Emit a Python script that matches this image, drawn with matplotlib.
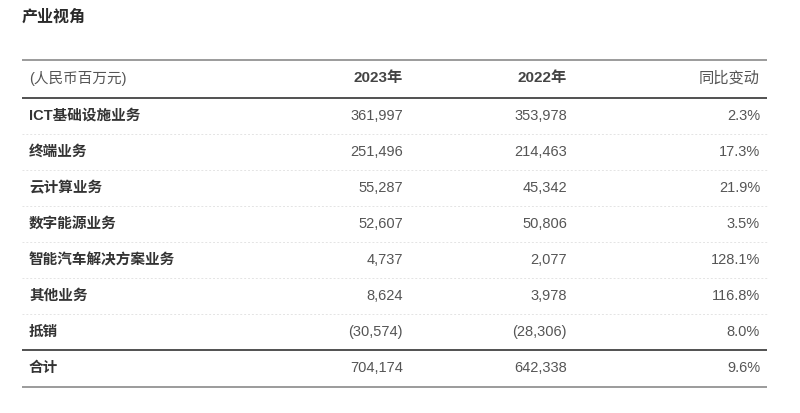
import matplotlib
matplotlib.use("Agg")
import matplotlib.pyplot as plt

plt.rcParams['font.family'] = ['Liberation Sans', 'Noto Sans CJK SC', 'DejaVu Sans']

title = "产业视角"
unit_label = "(人民币百万元)"
col_headers = ["2023年", "2022年", "同比变动"]
categories = ["ICT基础设施业务", "终端业务", "云计算业务", "数字能源业务",
              "智能汽车解决方案业务", "其他业务", "抵销", "合计"]
values_2023 = [361997, 251496, 55287, 52607, 4737, 8624, -30574, 704174]
values_2022 = [353978, 214463, 45342, 50806, 2077, 3978, -28306, 642338]
yoy_change = [2.3, 17.3, 21.9, 3.5, 128.1, 116.8, 8.0, 9.6]


def fmt(v):
    return f"({abs(v):,})" if v < 0 else f"{v:,}"


fig = plt.figure(figsize=(8, 4.13), dpi=100)
ax = fig.add_axes([0, 0, 1, 1])
ax.set_xlim(0, 800)
ax.set_ylim(413, 0)
ax.axis('off')

x_left, x_right = 22, 767
x_label = 29
x_c1, x_c2, x_c3 = 403, 567, 760
label_color = '#333333'
num_color = '#555555'
fs = 10.5

ax.text(22, 17, title, fontsize=11.5, fontweight='bold', color='#2a2a2a', va='center', ha='left')

# header
y_head = 78
ax.hlines(60, x_left, x_right, color='#8a8a8a', lw=1.2)
ax.text(x_label, y_head, unit_label, fontsize=fs, color=num_color, va='center', ha='left')
ax.text(x_c1, y_head, col_headers[0], fontsize=fs + 0.5, fontweight='bold', color='#444444', va='center', ha='right')
ax.text(x_c2, y_head, col_headers[1], fontsize=fs + 0.5, fontweight='bold', color='#444444', va='center', ha='right')
ax.text(x_c3, y_head, col_headers[2], fontsize=fs + 0.5, color='#555555', va='center', ha='right')
ax.hlines(98, x_left, x_right, color='#333333', lw=1.2)

row_h = 36
y0 = 116
n = len(categories)
for i, cat in enumerate(categories):
    y = y0 + i * row_h
    ax.text(x_label, y, cat, fontsize=fs, fontweight='bold', color=label_color, va='center', ha='left')
    ax.text(x_c1, y, fmt(values_2023[i]), fontsize=fs, color=num_color, va='center', ha='right')
    ax.text(x_c2, y, fmt(values_2022[i]), fontsize=fs, color=num_color, va='center', ha='right')
    ax.text(x_c3, y, f"{yoy_change[i]:.1f}%", fontsize=fs, color=num_color, va='center', ha='right')
    yl = y + row_h / 2
    if i < n - 2:
        ax.hlines(yl, x_left, x_right, color='#e4e4e4', lw=0.7, linestyles=(0, (2, 2)))
    elif i == n - 2:
        ax.hlines(yl, x_left, x_right, color='#333333', lw=1.2)
    else:
        ax.hlines(yl + 1, x_left, x_right, color='#8a8a8a', lw=1.2)

fig.savefig("out.png", dpi=100, facecolor='white')
